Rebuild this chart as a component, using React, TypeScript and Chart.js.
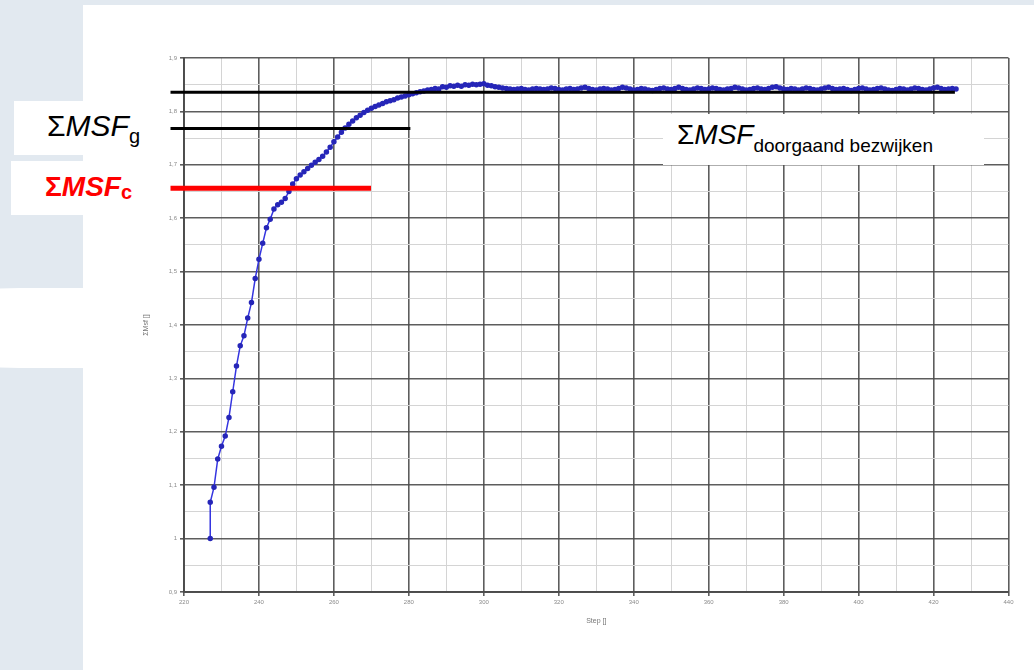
import React, { useEffect, useRef } from "react";
import { Chart, registerables } from "chart.js";

Chart.register(...registerables);

// ---- data ----
const initialSteps = [227, 227];
const initialValues = [1.0, 1.068];
const STEP_START = 228;
const msfValues = [
  1.096, 1.149, 1.173, 1.192, 1.227, 1.275, 1.323, 1.361, 1.38, 1.413, // 228-237
  1.442, 1.487, 1.523, 1.553, 1.582, 1.598, 1.617, 1.625, 1.63, 1.637, // 238-247
  1.65, 1.664, 1.674, 1.681, 1.687, 1.693, 1.699, 1.705, 1.71, 1.716, // 248-257
  1.724, 1.733, 1.743, 1.752, 1.761, 1.769, 1.776, 1.782, 1.788, 1.793, // 258-267
  1.798, 1.802, 1.806, 1.809, 1.812, 1.815, 1.818, 1.82, 1.822, 1.825, // 268-277
  1.827, 1.829, 1.831, 1.833, 1.835, 1.837, 1.838, 1.84, 1.841, 1.843, // 278-287
  1.842, 1.846, 1.845, 1.848, 1.847, 1.849, 1.847, 1.85, 1.849, 1.851, // 288-297
  1.85, 1.851, 1.852, 1.849, 1.848, 1.846, 1.845, 1.844, // 298-305
  1.843, 1.842, 1.841, 1.842, 1.843, 1.841, 1.84, 1.842, 1.843, 1.842,
  1.841, 1.842, 1.844, 1.843, 1.841, 1.84, 1.842, 1.843, 1.841, 1.842,
  1.844, 1.845, 1.843, 1.841, 1.84, 1.842, 1.843, 1.842, 1.84, 1.841,
  1.843, 1.845, 1.844, 1.842, 1.84, 1.841, 1.843, 1.842, 1.84, 1.839,
  1.841, 1.843, 1.844, 1.842, 1.841, 1.843, 1.845, 1.843, 1.841, 1.84,
  1.842, 1.844, 1.843, 1.841, 1.842, 1.844, 1.843, 1.841, 1.84, 1.842,
  1.843, 1.845, 1.844, 1.842, 1.84, 1.841, 1.843, 1.844, 1.842, 1.841,
  1.843, 1.845, 1.846, 1.844, 1.842, 1.841, 1.843, 1.842, 1.84, 1.842,
  1.844, 1.843, 1.841, 1.84, 1.842, 1.844, 1.845, 1.843, 1.841, 1.842,
  1.843, 1.841, 1.839, 1.841, 1.843, 1.844, 1.842, 1.84, 1.841, 1.843,
  1.844, 1.842, 1.84, 1.839, 1.841, 1.843, 1.842, 1.84, 1.842, 1.844,
  1.843, 1.841, 1.84, 1.842, 1.844, 1.845, 1.843, 1.841, 1.842, 1.843, 1.842,
];

// reference levels (ΣMSF doorgaand bezwijken, ΣMSF g, ΣMSF c)
const refLevels = [1.836, 1.768, 1.656];
const refStart = 216.4;
const refEnds = [425.7, 280.4, 269.9];
const refColors = ["#000000", "#000000", "#ff0000"];
const refWidths = [3, 3, 5];

const X_MIN = 220;
const X_MAX = 440;
const Y_MIN = 0.9;
const Y_MAX = 1.9;

const FONT = "'Liberation Sans', Arial, sans-serif";

function ChartCanvas() {
  const ref = useRef<HTMLCanvasElement | null>(null);
  useEffect(() => {
    if (!ref.current) return;
    const points: { x: number; y: number }[] = [];
    initialSteps.forEach((s, i) => points.push({ x: s, y: initialValues[i] }));
    msfValues.forEach((v, i) => points.push({ x: STEP_START + i, y: v }));

    const refDatasets = refLevels.map((lvl, i) => ({
      label: "ref" + i,
      data: [
        { x: refStart, y: lvl },
        { x: refEnds[i], y: lvl },
      ],
      borderColor: refColors[i],
      backgroundColor: refColors[i],
      borderWidth: refWidths[i],
      pointRadius: 0,
      clip: false as any,
      borderCapStyle: "butt" as const,
    }));

    const xMajor = (v: number) => Math.round(v) % 20 === 0;
    const yMajor = (v: number) => Math.round(v * 100) % 10 === 0;

    const chart = new Chart(ref.current, {
      type: "line",
      data: {
        datasets: [
          ...refDatasets,
          {
            label: "ΣMsf",
            data: points,
            borderColor: "#3535e0",
            backgroundColor: "#2222b0",
            pointBackgroundColor: "#2626b8",
            pointBorderColor: "#2626b8",
            borderWidth: 1.5,
            pointRadius: 2,
            tension: 0,
          },
        ],
      },
      options: {
        animation: false,
        responsive: false,
        events: [],
        layout: { padding: { left: 140, right: 25.5, top: 58, bottom: 43 } },
        plugins: { legend: { display: false }, tooltip: { enabled: false } },
        scales: {
          x: {
            type: "linear",
            min: X_MIN,
            max: X_MAX,
            afterFit: (s: any) => {
              s.height = 35;
            },
            ticks: {
              stepSize: 10,
              autoSkip: false,
              maxRotation: 0,
              padding: 3,
              color: "#8a8a8a",
              font: { family: FONT, size: 6 },
              callback: (v: any) => (xMajor(Number(v)) ? String(v) : ""),
            },
            grid: {
              color: (c: any) => (xMajor(c.tick.value) ? "rgba(75,75,75,0.9)" : "#d4d4d4"),
              lineWidth: (c: any) => (xMajor(c.tick.value) ? 1.6 : 1),
              tickLength: 4,
              tickColor: (c: any) => (xMajor(c.tick.value) ? "rgba(75,75,75,0.9)" : "rgba(0,0,0,0)"),
            },
            border: { color: "rgba(75,75,75,0.95)", width: 2 },
            title: {
              display: true,
              text: "Step []",
              color: "#777",
              font: { family: FONT, size: 7 },
              padding: 2,
            },
          },
          y: {
            type: "linear",
            min: Y_MIN,
            max: Y_MAX,
            afterFit: (s: any) => {
              s.width = 44;
            },
            ticks: {
              stepSize: 0.05,
              autoSkip: false,
              padding: 3,
              color: "#8a8a8a",
              font: { family: FONT, size: 6 },
              callback: (v: any) => {
                const n = Number(v);
                if (!yMajor(n)) return "";
                if (Math.abs(n - 1) < 1e-6) return "1";
                return n.toFixed(1).replace(".", ",");
              },
            },
            grid: {
              color: (c: any) => (yMajor(c.tick.value) ? "rgba(75,75,75,0.9)" : "#d4d4d4"),
              lineWidth: (c: any) => (yMajor(c.tick.value) ? 1.6 : 1),
              tickLength: 4,
              tickColor: (c: any) => (yMajor(c.tick.value) ? "rgba(75,75,75,0.9)" : "rgba(0,0,0,0)"),
            },
            border: { color: "rgba(75,75,75,0.95)", width: 2 },
            title: {
              display: true,
              text: "ΣMsf []",
              color: "#777",
              font: { family: FONT, size: 7 },
              padding: 2,
            },
          },
        },
      },
    });
    return () => chart.destroy();
  }, []);
  return (
    <canvas
      ref={ref}
      width={1034}
      height={670}
      style={{ position: "absolute", left: 0, top: 0, width: 1034, height: 670, zIndex: 2 }}
    />
  );
}

const boxStyle: React.CSSProperties = {
  position: "absolute",
  background: "#ffffff",
  zIndex: 3,
};

export default function App() {
  return (
    <div
      style={{
        position: "fixed",
        left: 0,
        top: 0,
        width: 1034,
        height: 670,
        overflow: "hidden",
        background: "#e2e9f0",
        fontFamily: FONT,
      }}
    >
      {/* white band on the left */}
      <div
        style={{
          position: "absolute",
          left: -40,
          top: 288,
          width: 140,
          height: 80,
          background: "#ffffff",
          borderTopLeftRadius: "60px 10px",
          borderBottomLeftRadius: "60px 8px",
          zIndex: 0,
        }}
      />
      {/* main white panel */}
      <div
        style={{
          position: "absolute",
          left: 83,
          top: 5,
          right: 0,
          bottom: 0,
          background: "#ffffff",
          zIndex: 1,
        }}
      />
      <ChartCanvas />

      {/* ΣMSF g */}
      <div style={{ ...boxStyle, left: 14, top: 101, width: 138, height: 54 }}>
        <div
          style={{
            position: "absolute",
            left: 33,
            top: 136 - 101 - 0.8465 * 30,
            fontSize: 30,
            lineHeight: 1,
            whiteSpace: "nowrap",
            color: "#000",
          }}
        >
          Σ<i>MSF</i>
          <span style={{ fontSize: 20, position: "relative", top: 7 }}>g</span>
        </div>
      </div>

      {/* ΣMSF c */}
      <div style={{ ...boxStyle, left: 11, top: 161, width: 136, height: 54 }}>
        <div
          style={{
            position: "absolute",
            left: 34,
            top: 197 - 161 - 0.8465 * 28,
            fontSize: 28,
            lineHeight: 1,
            whiteSpace: "nowrap",
            color: "#ff0000",
            fontWeight: "bold",
          }}
        >
          Σ<i>MSF</i>
          <span style={{ fontSize: 20, position: "relative", top: 3 }}>c</span>
        </div>
      </div>

      {/* ΣMSF doorgaand bezwijken */}
      <div style={{ ...boxStyle, left: 663, top: 114, width: 321, height: 51 }}>
        <div
          style={{
            position: "absolute",
            left: 14,
            top: 145 - 114 - 0.8465 * 28,
            fontSize: 28,
            lineHeight: 1,
            whiteSpace: "nowrap",
            color: "#000",
          }}
        >
          Σ<i>MSF</i>
          <span style={{ fontSize: 19, position: "relative", top: 8 }}>doorgaand bezwijken</span>
        </div>
      </div>
    </div>
  );
}
